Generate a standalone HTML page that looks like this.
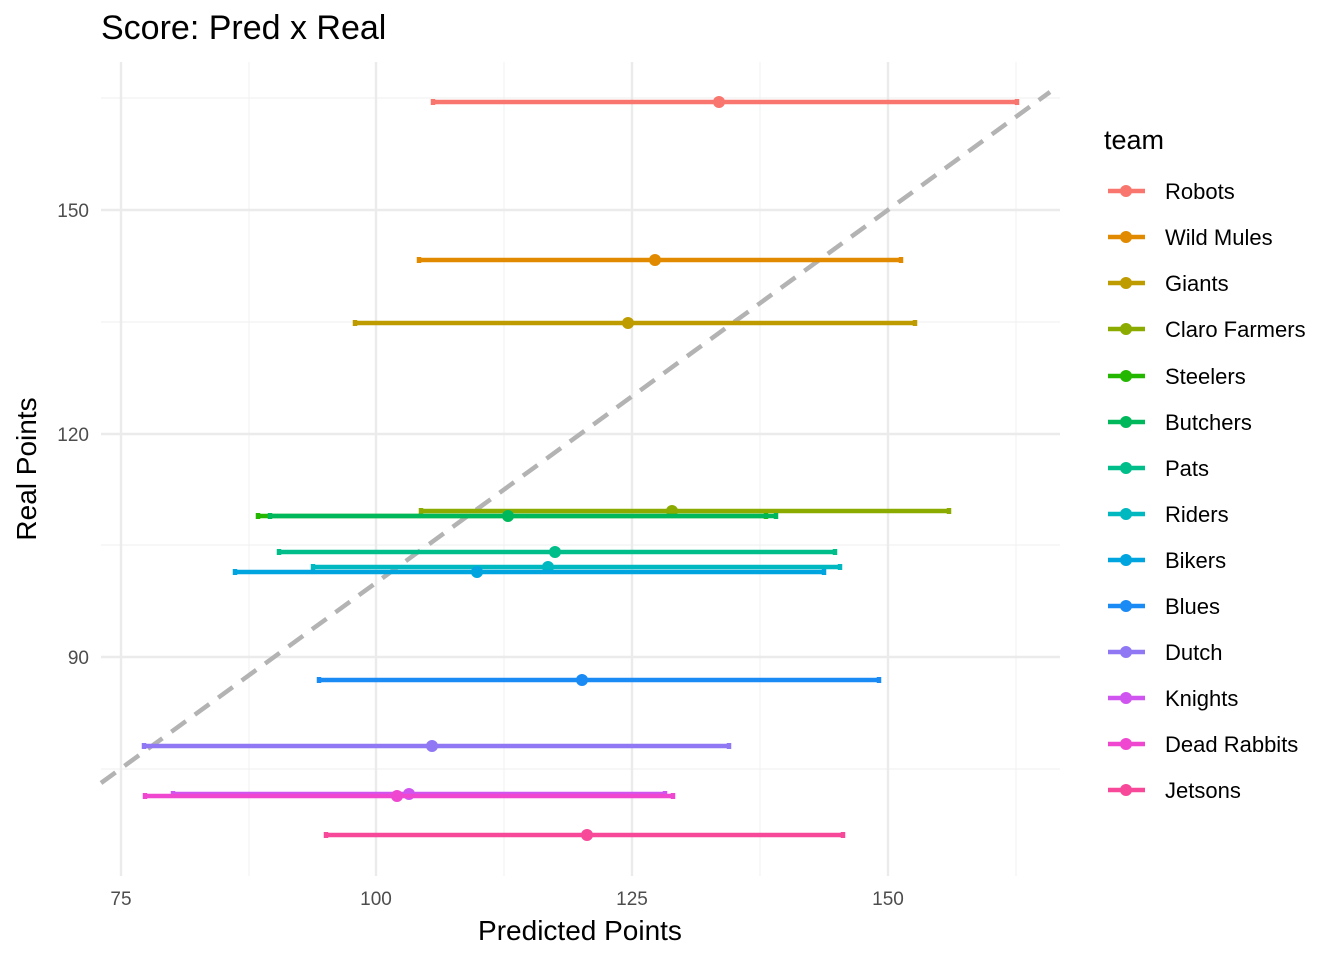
<!DOCTYPE html>
<html><head><meta charset="utf-8"><style>body{margin:0;background:#fff}svg{display:block}text{font-family:"Liberation Sans",Arial,sans-serif}</style></head><body>
<svg width="1344" height="960" viewBox="0 0 1344 960" xmlns="http://www.w3.org/2000/svg">
<rect width="1344" height="960" fill="#fff"/>
<g stroke="#F2F2F2" stroke-width="1.2">
<line x1="249" y1="62" x2="249" y2="876"/><line x1="504" y1="62" x2="504" y2="876"/><line x1="760" y1="62" x2="760" y2="876"/><line x1="1016" y1="62" x2="1016" y2="876"/>
<line x1="101" y1="98" x2="1060" y2="98"/><line x1="101" y1="322" x2="1060" y2="322"/><line x1="101" y1="545" x2="1060" y2="545"/><line x1="101" y1="769" x2="1060" y2="769"/>
</g>
<g stroke="#EBEBEB" stroke-width="2.4">
<line x1="121" y1="62" x2="121" y2="876"/><line x1="376" y1="62" x2="376" y2="876"/><line x1="632" y1="62" x2="632" y2="876"/><line x1="888" y1="62" x2="888" y2="876"/>
<line x1="101" y1="210" x2="1060" y2="210"/><line x1="101" y1="434" x2="1060" y2="434"/><line x1="101" y1="657" x2="1060" y2="657"/>
</g>
<line x1="101" y1="783" x2="1050" y2="92" stroke="#B3B3B3" stroke-width="4.5" stroke-dasharray="18,11"/>
<g stroke-width="4.5">
<g stroke="#F8766D" fill="#F8766D"><line x1="433" y1="102" x2="1017" y2="102"/><line x1="433" y1="99" x2="433" y2="105"/><line x1="1017" y1="99" x2="1017" y2="105"/><circle cx="719" cy="102" r="6" stroke="none"/></g>
<g stroke="#E18A00" fill="#E18A00"><line x1="419" y1="260" x2="901" y2="260"/><line x1="419" y1="257" x2="419" y2="263"/><line x1="901" y1="257" x2="901" y2="263"/><circle cx="655" cy="260" r="6" stroke="none"/></g>
<g stroke="#BE9C00" fill="#BE9C00"><line x1="355" y1="323" x2="915" y2="323"/><line x1="355" y1="320" x2="355" y2="326"/><line x1="915" y1="320" x2="915" y2="326"/><circle cx="628" cy="323" r="6" stroke="none"/></g>
<g stroke="#8CAB00" fill="#8CAB00"><line x1="421" y1="511" x2="949" y2="511"/><line x1="421" y1="508" x2="421" y2="514"/><line x1="949" y1="508" x2="949" y2="514"/><circle cx="672" cy="511" r="6" stroke="none"/></g>
<g stroke="#24B700" fill="#24B700"><line x1="258" y1="516" x2="766" y2="516"/><line x1="258" y1="513" x2="258" y2="519"/><line x1="766" y1="513" x2="766" y2="519"/></g>
<g stroke="#00B85C" fill="#00B85C"><line x1="270" y1="516" x2="776" y2="516"/><line x1="270" y1="513" x2="270" y2="519"/><line x1="776" y1="513" x2="776" y2="519"/><circle cx="508" cy="516" r="6" stroke="none"/></g>
<g stroke="#00BE8A" fill="#00BE8A"><line x1="279" y1="552" x2="835" y2="552"/><line x1="279" y1="549" x2="279" y2="555"/><line x1="835" y1="549" x2="835" y2="555"/><circle cx="555" cy="552" r="6" stroke="none"/></g>
<g stroke="#00B8C0" fill="#00B8C0"><line x1="313" y1="567" x2="840" y2="567"/><line x1="313" y1="564" x2="313" y2="570"/><line x1="840" y1="564" x2="840" y2="570"/><circle cx="548" cy="567" r="6" stroke="none"/></g>
<g stroke="#00A5E0" fill="#00A5E0"><line x1="235" y1="572" x2="824" y2="572"/><line x1="235" y1="569" x2="235" y2="575"/><line x1="824" y1="569" x2="824" y2="575"/><circle cx="477" cy="572" r="6" stroke="none"/></g>
<g stroke="#1A8AF5" fill="#1A8AF5"><line x1="319" y1="680" x2="879" y2="680"/><line x1="319" y1="677" x2="319" y2="683"/><line x1="879" y1="677" x2="879" y2="683"/><circle cx="582" cy="680" r="6" stroke="none"/></g>
<g stroke="#9078F5" fill="#9078F5"><line x1="144" y1="746" x2="729" y2="746"/><line x1="144" y1="743" x2="144" y2="749"/><line x1="729" y1="743" x2="729" y2="749"/><circle cx="432" cy="746" r="6" stroke="none"/></g>
<g stroke="#D055F0" fill="#D055F0"><line x1="173" y1="794" x2="665" y2="794"/><line x1="173" y1="791" x2="173" y2="797"/><line x1="665" y1="791" x2="665" y2="797"/><circle cx="409" cy="794" r="6" stroke="none"/></g>
<g stroke="#F047D0" fill="#F047D0"><line x1="145" y1="796" x2="673" y2="796"/><line x1="145" y1="793" x2="145" y2="799"/><line x1="673" y1="793" x2="673" y2="799"/><circle cx="397" cy="796" r="6" stroke="none"/></g>
<g stroke="#F8489A" fill="#F8489A"><line x1="326" y1="835" x2="843" y2="835"/><line x1="326" y1="832" x2="326" y2="838"/><line x1="843" y1="832" x2="843" y2="838"/><circle cx="587" cy="835" r="6" stroke="none"/></g>
</g>
<g font-size="19" fill="#4D4D4D" text-anchor="end">
<text x="89" y="217">150</text><text x="89" y="441">120</text><text x="89" y="664">90</text>
</g>
<g font-size="19" fill="#4D4D4D" text-anchor="middle">
<text x="121" y="905">75</text><text x="376" y="905">100</text><text x="632" y="905">125</text><text x="888" y="905">150</text>
</g>
<text x="580" y="940" font-size="28" text-anchor="middle" fill="#000">Predicted Points</text>
<text transform="translate(36,469) rotate(-90)" font-size="28" text-anchor="middle" fill="#000">Real Points</text>
<text x="101" y="39" font-size="34" fill="#000">Score: Pred x Real</text>
<text x="1104" y="149" font-size="27" fill="#000">team</text>
<g font-size="22" fill="#000" stroke-width="4.5">
<g transform="translate(0,191)"><line x1="1108" y1="0" x2="1145" y2="0" stroke="#F8766D"/><circle cx="1126" cy="0" r="6" fill="#F8766D"/><text x="1165" y="8">Robots</text></g>
<g transform="translate(0,237)"><line x1="1108" y1="0" x2="1145" y2="0" stroke="#E18A00"/><circle cx="1126" cy="0" r="6" fill="#E18A00"/><text x="1165" y="8">Wild Mules</text></g>
<g transform="translate(0,283)"><line x1="1108" y1="0" x2="1145" y2="0" stroke="#BE9C00"/><circle cx="1126" cy="0" r="6" fill="#BE9C00"/><text x="1165" y="8">Giants</text></g>
<g transform="translate(0,329)"><line x1="1108" y1="0" x2="1145" y2="0" stroke="#8CAB00"/><circle cx="1126" cy="0" r="6" fill="#8CAB00"/><text x="1165" y="8">Claro Farmers</text></g>
<g transform="translate(0,376)"><line x1="1108" y1="0" x2="1145" y2="0" stroke="#24B700"/><circle cx="1126" cy="0" r="6" fill="#24B700"/><text x="1165" y="8">Steelers</text></g>
<g transform="translate(0,422)"><line x1="1108" y1="0" x2="1145" y2="0" stroke="#00B85C"/><circle cx="1126" cy="0" r="6" fill="#00B85C"/><text x="1165" y="8">Butchers</text></g>
<g transform="translate(0,468)"><line x1="1108" y1="0" x2="1145" y2="0" stroke="#00BE8A"/><circle cx="1126" cy="0" r="6" fill="#00BE8A"/><text x="1165" y="8">Pats</text></g>
<g transform="translate(0,514)"><line x1="1108" y1="0" x2="1145" y2="0" stroke="#00B8C0"/><circle cx="1126" cy="0" r="6" fill="#00B8C0"/><text x="1165" y="8">Riders</text></g>
<g transform="translate(0,560)"><line x1="1108" y1="0" x2="1145" y2="0" stroke="#00A5E0"/><circle cx="1126" cy="0" r="6" fill="#00A5E0"/><text x="1165" y="8">Bikers</text></g>
<g transform="translate(0,606)"><line x1="1108" y1="0" x2="1145" y2="0" stroke="#1A8AF5"/><circle cx="1126" cy="0" r="6" fill="#1A8AF5"/><text x="1165" y="8">Blues</text></g>
<g transform="translate(0,652)"><line x1="1108" y1="0" x2="1145" y2="0" stroke="#9078F5"/><circle cx="1126" cy="0" r="6" fill="#9078F5"/><text x="1165" y="8">Dutch</text></g>
<g transform="translate(0,698)"><line x1="1108" y1="0" x2="1145" y2="0" stroke="#D055F0"/><circle cx="1126" cy="0" r="6" fill="#D055F0"/><text x="1165" y="8">Knights</text></g>
<g transform="translate(0,744)"><line x1="1108" y1="0" x2="1145" y2="0" stroke="#F047D0"/><circle cx="1126" cy="0" r="6" fill="#F047D0"/><text x="1165" y="8">Dead Rabbits</text></g>
<g transform="translate(0,790)"><line x1="1108" y1="0" x2="1145" y2="0" stroke="#F8489A"/><circle cx="1126" cy="0" r="6" fill="#F8489A"/><text x="1165" y="8">Jetsons</text></g>
</g>
</svg>
</body></html>
